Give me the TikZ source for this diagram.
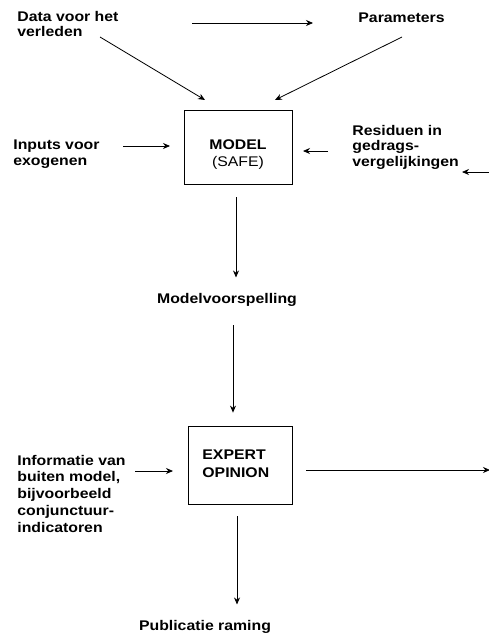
\documentclass[tikz,border=0pt]{standalone}
\usepackage{fontspec}
\setmainfont{Liberation Sans}[FakeStretch=1.13]
\usetikzlibrary{arrows.meta}

\begin{document}
\begin{tikzpicture}[x=1pt,y=-1pt,line width=0.8pt,
    arr/.style={-{Stealth[length=7pt,width=6pt]}},
    lbl/.style={anchor=base west,inner sep=0pt,align=left,font=\fontsize{14}{15.5}\selectfont\bfseries},
    box/.style={draw,inner sep=0pt}]
        \useasboundingbox (0,0) rectangle (489,634);

        \node[lbl] (data) at (17,37) {Data voor het\\verleden};
        \node[lbl] (params) at (358,23) {Parameters};
        \node[lbl] (inputs) at (13,165) {Inputs voor\\exogenen};
        \node[lbl] (resid) at (352,166) {Residuen in\\gedrags-\\vergelijkingen};
        \node[box,minimum width=108pt,minimum height=74pt] (model) at (238,147) {};
        \node[anchor=base,inner sep=0pt,align=center,font=\fontsize{14}{17}\selectfont] (modeltxt) at (238,166) {\textbf{MODEL}\\(SAFE)};
        \node[lbl,anchor=base] (mv) at (227,303) {Modelvoorspelling};
        \node[box,minimum width=104pt,minimum height=78pt] (expert) at (240,465) {};
        \node[lbl,font=\fontsize{14}{18}\selectfont\bfseries] (experttxt) at (202,477) {EXPERT\\OPINION};
        \node[lbl,font=\fontsize{14}{16.7}\selectfont\bfseries] (info) at (17,532) {Informatie van\\buiten model,\\bijvoorbeeld\\conjunctuur-\\indicatoren};
        \node[lbl,anchor=base] (pub) at (205,630) {Publicatie raming};

        \coordinate (topl) at (192,23);
        \coordinate (topr) at (313,23);
        \coordinate (dataout) at (100,37);
        \coordinate (modelnw) at (205,100);
        \coordinate (paramsout) at (402,37);
        \coordinate (modelne) at (275,100);
        \coordinate (inputsout) at (123,146);
        \coordinate (modelw) at (170,146);
        \coordinate (residout) at (328,151);
        \coordinate (modele) at (303,151);
        \coordinate (rightin) at (490,172);
        \coordinate (residin) at (462,172);
        \coordinate (infoout) at (135,471);
        \coordinate (expertw) at (173,471);
        \coordinate (experte) at (306,470);
        \coordinate (rightout) at (490,470);

        \draw[arr] (topl) -- (topr);
        \draw[arr] (dataout) -- (modelnw);
        \draw[arr] (paramsout) -- (modelne);
        \draw[arr] (inputsout) -- (modelw);
        \draw[arr] (residout) -- (modele);
        \draw[arr] (rightin) -- (residin);
        \draw[arr,shorten <=13pt,shorten >=15pt] ([xshift=-2pt]model.south) -- ([xshift=9pt]mv.north);
        \draw[arr,shorten <=19pt,shorten >=13pt] ([xshift=6pt]mv.south) -- ([xshift=-7pt]expert.north);
        \draw[arr] (infoout) -- (expertw);
        \draw[arr] (experte) -- (rightout);
        \draw[arr,shorten <=12pt,shorten >=15pt] ([xshift=-3pt]expert.south) -- ([xshift=32pt]pub.north);

    \end{tikzpicture}
\end{document}
